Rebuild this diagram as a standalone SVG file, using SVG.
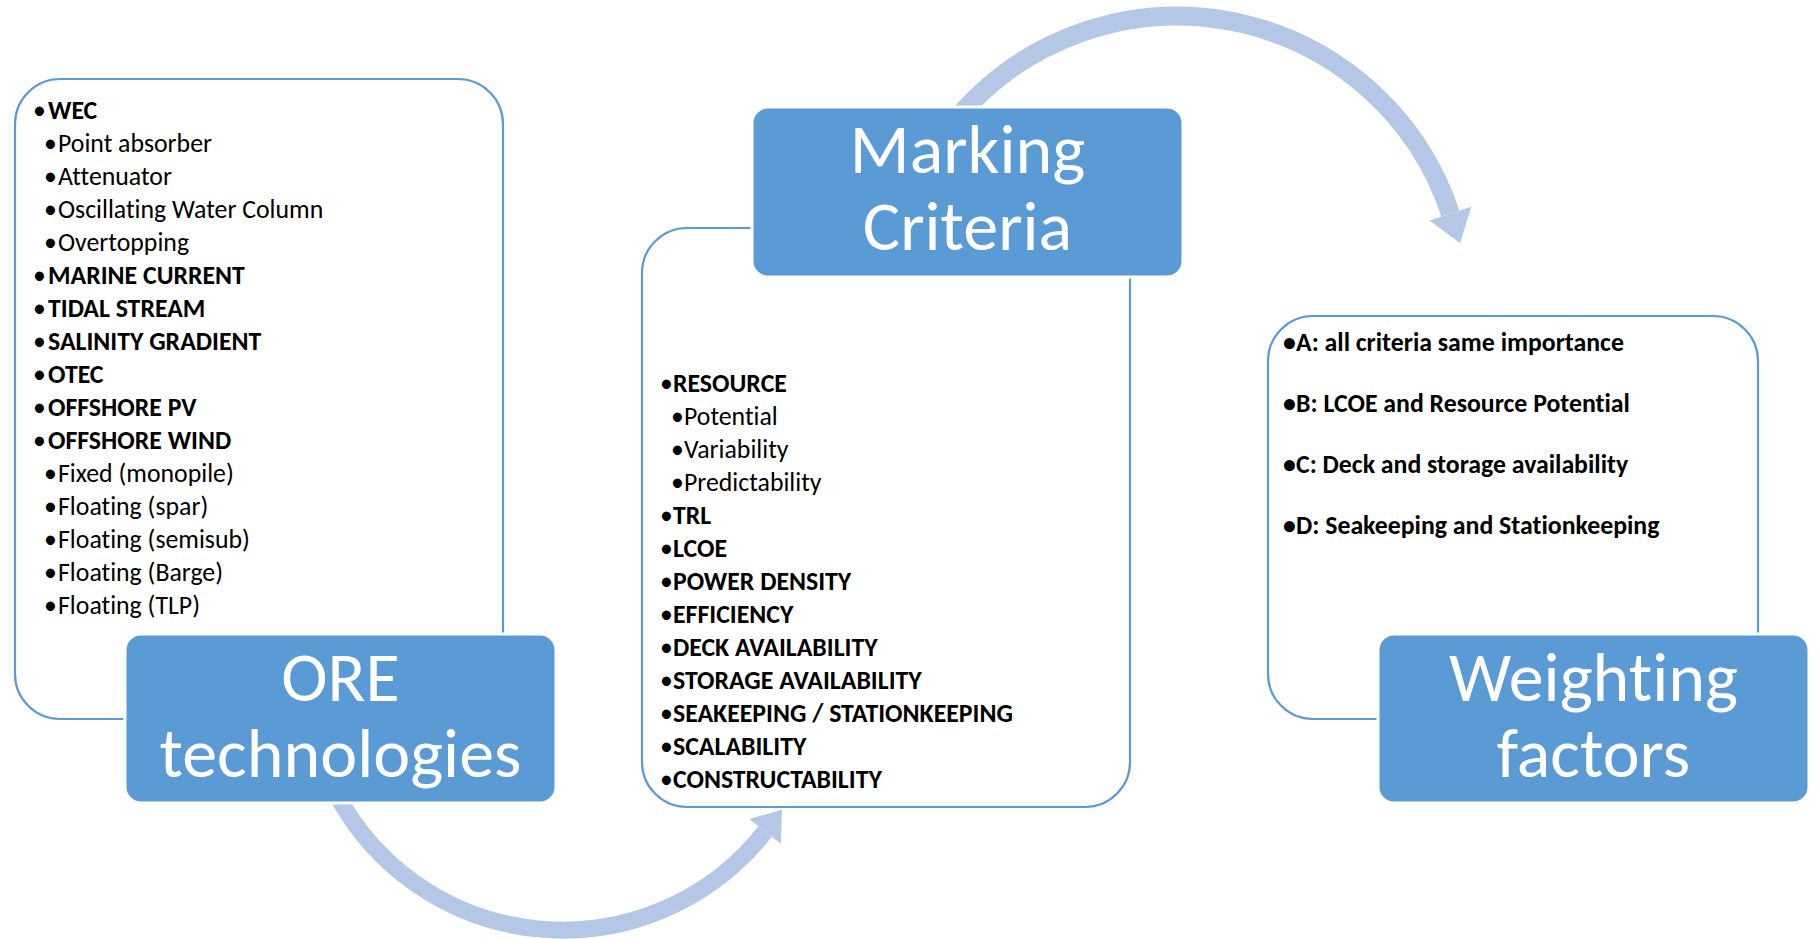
<svg xmlns="http://www.w3.org/2000/svg" width="1818" height="939" viewBox="0 0 1818 939">
  <style>
    .panel { fill: #FFFFFF; stroke: #5B9BD5; stroke-width: 2.2; }
    .node { fill: #5B9BD5; stroke: #FFFFFF; stroke-width: 3; }
    .title { font-family: Carlito, Calibri, "Open Sans", sans-serif; font-size: 70px; fill: #FFFFFF; text-anchor: middle; font-variant-ligatures: none; font-feature-settings: "liga" 0, "clig" 0; }
    .item { font-family: Carlito, Calibri, "Open Sans", sans-serif; font-size: 25.8px; fill: #000000; font-variant-ligatures: none; font-feature-settings: "liga" 0, "clig" 0; }
    .b { font-weight: bold; }
    .flow { fill: none; stroke: #B4C7E7; }
    .head { fill: #B4C7E7; }
  </style>

  <!-- curved flow arrows, drawn first so the nodes sit on top of their tails -->
  <g id="connectors">
    <!-- ORE technologies -> Marking Criteria (lower arc) -->
    <path class="flow" stroke-width="17" d="M 336.5 794.2 A 256.5 256.5 0 0 0 765.1 831.4"/>
    <polygon class="head" points="782,809.7 780.9,843.7 749.3,819.1"/>
    <!-- Marking Criteria -> Weighting factors (upper arc) -->
    <path class="flow" stroke-width="19" d="M 956.4 118.9 A 288 288 0 0 1 1450.4 213.6"/>
    <polygon class="head" points="1460.1,243 1471.3,206.7 1429.5,220.5"/>
  </g>

  <!-- ORE technologies: list panel + title node -->
  <g id="ore-technologies">
    <rect class="panel" x="15" y="79" width="488" height="640" rx="45" ry="45"/>
    <g class="item">
      <text x="33" y="119">•</text><text class="b" x="48" y="119">WEC</text>
      <text x="44" y="152">•</text><text x="58" y="152">Point absorber</text>
      <text x="44" y="185">•</text><text x="58" y="185">Attenuator</text>
      <text x="44" y="218">•</text><text x="58" y="218">Oscillating Water Column</text>
      <text x="44" y="251">•</text><text x="58" y="251">Overtopping</text>
      <text x="33" y="284">•</text><text class="b" x="48" y="284">MARINE CURRENT</text>
      <text x="33" y="317">•</text><text class="b" x="48" y="317">TIDAL STREAM</text>
      <text x="33" y="350">•</text><text class="b" x="48" y="350">SALINITY GRADIENT</text>
      <text x="33" y="383">•</text><text class="b" x="48" y="383">OTEC</text>
      <text x="33" y="416">•</text><text class="b" x="48" y="416">OFFSHORE PV</text>
      <text x="33" y="449">•</text><text class="b" x="48" y="449">OFFSHORE WIND</text>
      <text x="44" y="482">•</text><text x="58" y="482">Fixed (monopile)</text>
      <text x="44" y="515">•</text><text x="58" y="515">Floating (spar)</text>
      <text x="44" y="548">•</text><text x="58" y="548">Floating (semisub)</text>
      <text x="44" y="581">•</text><text x="58" y="581">Floating (Barge)</text>
      <text x="44" y="614">•</text><text x="58" y="614">Floating (TLP)</text>
    </g>
    <rect class="node" x="125" y="634" width="431" height="169" rx="16" ry="16"/>
    <text class="title" x="340.5" y="701">ORE<tspan x="340.5" dy="76">technologies</tspan></text>
  </g>

  <!-- Marking Criteria: list panel + title node -->
  <g id="marking-criteria">
    <rect class="panel" x="642" y="228" width="488" height="579" rx="45" ry="45"/>
    <g class="item">
      <text x="660" y="392">•</text><text class="b" x="673" y="392">RESOURCE</text>
      <text x="671" y="425">•</text><text x="684" y="425">Potential</text>
      <text x="671" y="458">•</text><text x="684" y="458">Variability</text>
      <text x="671" y="491">•</text><text x="684" y="491">Predictability</text>
      <text x="660" y="524">•</text><text class="b" x="673" y="524">TRL</text>
      <text x="660" y="557">•</text><text class="b" x="673" y="557">LCOE</text>
      <text x="660" y="590">•</text><text class="b" x="673" y="590">POWER DENSITY</text>
      <text x="660" y="623">•</text><text class="b" x="673" y="623">EFFICIENCY</text>
      <text x="660" y="656">•</text><text class="b" x="673" y="656">DECK AVAILABILITY</text>
      <text x="660" y="689">•</text><text class="b" x="673" y="689">STORAGE AVAILABILITY</text>
      <text x="660" y="722">•</text><text class="b" x="673" y="722">SEAKEEPING / STATIONKEEPING</text>
      <text x="660" y="755">•</text><text class="b" x="673" y="755">SCALABILITY</text>
      <text x="660" y="788">•</text><text class="b" x="673" y="788">CONSTRUCTABILITY</text>
    </g>
    <rect class="node" x="752" y="107" width="431" height="170" rx="16" ry="16"/>
    <text class="title" x="967.5" y="173">Marking<tspan x="967.5" dy="77">Criteria</tspan></text>
  </g>

  <!-- Weighting factors: list panel + title node -->
  <g id="weighting-factors">
    <rect class="panel" x="1268" y="316" width="490" height="403" rx="45" ry="45"/>
    <g class="item b">
      <text x="1283" y="351">•</text><text x="1296" y="351">A: all criteria same importance</text>
      <text x="1283" y="412">•</text><text x="1296" y="412">B: LCOE and Resource Potential</text>
      <text x="1283" y="473">•</text><text x="1296" y="473">C: Deck and storage availability</text>
      <text x="1283" y="534">•</text><text x="1296" y="534">D: Seakeeping and Stationkeeping</text>
    </g>
    <rect class="node" x="1378" y="634" width="431" height="169" rx="16" ry="16"/>
    <text class="title" x="1593.5" y="701">Weighting<tspan x="1593.5" dy="76">factors</tspan></text>
  </g>
</svg>
